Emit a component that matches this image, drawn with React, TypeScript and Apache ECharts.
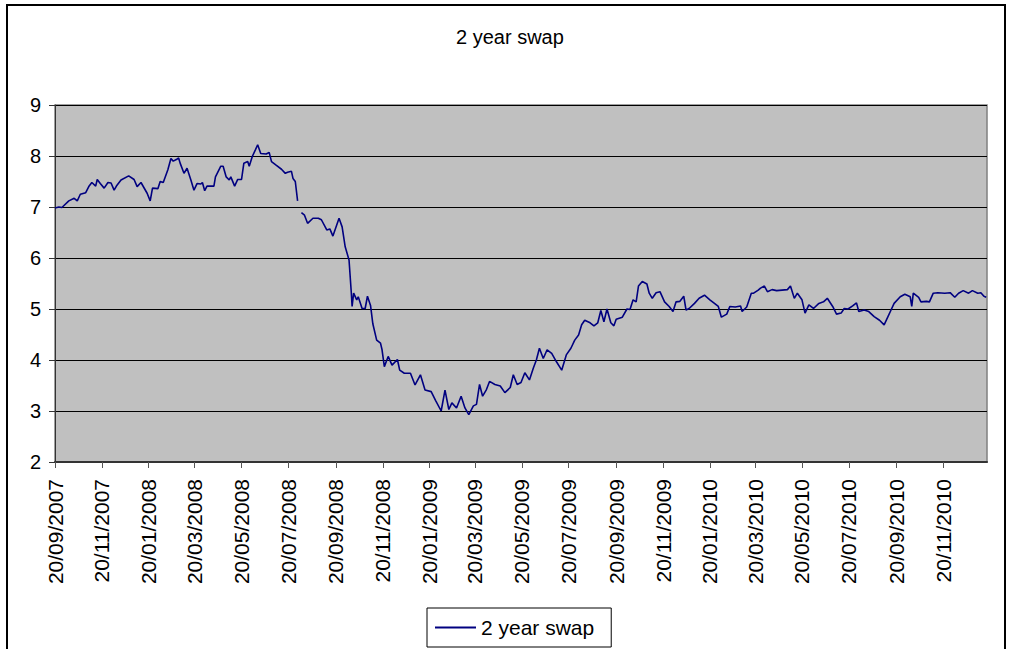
import React, { useEffect, useRef } from "react";
import * as echarts from "echarts";

const chartTitle = "2 year swap";
const seriesName = "2 year swap";

const dates: string[] = [
  "2007-09-20","2007-09-25","2007-09-29","2007-10-08","2007-10-15","2007-10-19","2007-10-23","2007-10-30",
  "2007-11-03","2007-11-07","2007-11-12","2007-11-14","2007-11-18","2007-11-23","2007-11-28","2007-12-02",
  "2007-12-06","2007-12-09","2007-12-15","2007-12-25","2008-01-01","2008-01-05","2008-01-10","2008-01-18",
  "2008-01-22","2008-01-25","2008-02-01","2008-02-04","2008-02-08","2008-02-14","2008-02-18","2008-02-21",
  "2008-02-25","2008-02-28","2008-03-01","2008-03-06","2008-03-10","2008-03-15","2008-03-19","2008-03-23",
  "2008-03-28","2008-03-30","2008-04-02","2008-04-05","2008-04-14","2008-04-16","2008-04-23","2008-04-26",
  "2008-04-30","2008-05-04","2008-05-06","2008-05-11","2008-05-15","2008-05-20","2008-05-23","2008-05-28",
  "2008-05-30","2008-06-03","2008-06-07","2008-06-10","2008-06-14","2008-06-21","2008-06-25","2008-06-28",
  "2008-07-04","2008-07-11","2008-07-16","2008-07-19","2008-07-24","2008-07-26","2008-07-29","2008-08-01",
  "2008-08-03","2008-08-06","2008-08-10","2008-08-14","2008-08-21","2008-08-28","2008-09-01","2008-09-08",
  "2008-09-12","2008-09-16","2008-09-24","2008-09-28","2008-10-02","2008-10-07","2008-10-10","2008-10-11",
  "2008-10-13","2008-10-17","2008-10-19","2008-10-24","2008-10-28","2008-10-31","2008-11-04","2008-11-07",
  "2008-11-12","2008-11-17","2008-11-19","2008-11-22","2008-11-27","2008-12-02","2008-12-09","2008-12-12",
  "2008-12-18","2008-12-26","2009-01-01","2009-01-08","2009-01-14","2009-01-22","2009-01-28","2009-02-04",
  "2009-02-09","2009-02-14","2009-02-18","2009-02-24","2009-03-02","2009-03-07","2009-03-12","2009-03-18",
  "2009-03-22","2009-03-26","2009-03-30","2009-04-04","2009-04-08","2009-04-15","2009-04-22","2009-04-28",
  "2009-05-05","2009-05-09","2009-05-14","2009-05-19","2009-05-24","2009-05-30","2009-06-04","2009-06-08",
  "2009-06-12","2009-06-17","2009-06-22","2009-06-28","2009-07-04","2009-07-11","2009-07-17","2009-07-23",
  "2009-07-28","2009-08-02","2009-08-06","2009-08-10","2009-08-17","2009-08-22","2009-08-27","2009-08-31",
  "2009-09-04","2009-09-08","2009-09-13","2009-09-17","2009-09-20","2009-09-28","2009-10-04","2009-10-08",
  "2009-10-12","2009-10-16","2009-10-19","2009-10-24","2009-10-30","2009-11-02","2009-11-06","2009-11-11",
  "2009-11-16","2009-11-22","2009-11-28","2009-12-03","2009-12-07","2009-12-12","2009-12-17","2009-12-20",
  "2009-12-24","2009-12-31","2010-01-06","2010-01-13","2010-01-20","2010-01-26","2010-01-31","2010-02-04",
  "2010-02-11","2010-02-15","2010-02-22","2010-03-01","2010-03-03","2010-03-09","2010-03-15","2010-03-18",
  "2010-03-24","2010-03-27","2010-04-01","2010-04-05","2010-04-11","2010-04-17","2010-04-24","2010-05-01",
  "2010-05-05","2010-05-10","2010-05-14","2010-05-20","2010-05-24","2010-05-29","2010-06-04","2010-06-11",
  "2010-06-17","2010-06-22","2010-06-29","2010-07-04","2010-07-10","2010-07-14","2010-07-19","2010-07-25",
  "2010-07-30","2010-08-02","2010-08-09","2010-08-15","2010-08-22","2010-08-29","2010-09-04","2010-09-09",
  "2010-09-13","2010-09-17","2010-09-25","2010-10-01","2010-10-08","2010-10-10","2010-10-12","2010-10-19",
  "2010-10-22","2010-10-29","2010-11-02","2010-11-07","2010-11-13","2010-11-22","2010-11-29","2010-12-05",
  "2010-12-10","2010-12-16","2010-12-23","2010-12-28","2011-01-04","2011-01-08","2011-01-12","2011-01-15",
];

const swapRates: (number | null)[] = [
  6.98,7.0,6.99,7.12,7.17,7.12,7.25,7.28,
  7.4,7.48,7.41,7.54,7.46,7.37,7.48,7.47,
  7.33,7.41,7.53,7.61,7.54,7.4,7.48,7.27,
  7.12,7.37,7.36,7.5,7.48,7.73,7.95,7.9,
  7.93,7.96,7.86,7.66,7.76,7.53,7.33,7.46,
  7.45,7.48,7.32,7.41,7.41,7.59,7.8,7.8,
  7.59,7.53,7.59,7.41,7.54,7.54,7.86,7.89,
  7.8,7.99,8.12,8.22,8.05,8.04,8.07,7.89,
  7.82,7.74,7.66,7.68,7.7,7.56,7.5,7.12,
  null,6.89,6.84,6.68,6.78,6.78,6.75,6.55,
  6.57,6.43,6.78,6.61,6.22,5.96,5.31,5.05,
  5.31,5.18,5.24,5.01,5.01,5.25,5.07,4.71,
  4.39,4.33,4.2,3.87,4.07,3.9,4.01,3.8,
  3.74,3.74,3.51,3.71,3.41,3.38,3.2,3.0,
  3.41,3.03,3.16,3.06,3.29,3.06,2.93,3.1,
  3.13,3.52,3.29,3.42,3.58,3.52,3.49,3.36,
  3.46,3.71,3.52,3.56,3.75,3.61,3.84,4.0,
  4.23,4.03,4.2,4.13,3.97,3.8,4.1,4.23,
  4.39,4.49,4.69,4.78,4.73,4.67,4.73,4.97,
  4.75,5.0,4.73,4.67,4.8,4.84,5.0,4.99,
  5.18,5.14,5.45,5.54,5.49,5.31,5.21,5.32,
  5.34,5.14,5.05,4.95,5.14,5.15,5.25,4.98,
  5.01,5.11,5.21,5.27,5.18,5.11,5.05,4.84,
  4.9,5.05,5.04,5.06,4.95,5.04,5.31,5.31,
  5.37,5.41,5.45,5.34,5.38,5.36,5.37,5.38,
  5.45,5.21,5.31,5.18,4.92,5.08,5.01,5.11,
  5.14,5.21,5.05,4.9,4.92,5.01,5.0,5.06,
  5.12,4.95,4.98,4.95,4.85,4.78,4.69,4.85,
  4.98,5.11,5.24,5.29,5.24,5.05,5.31,5.23,
  5.14,5.15,5.14,5.31,5.32,5.31,5.32,5.23,
  5.31,5.36,5.31,5.36,5.31,5.32,5.25,5.23,
];

const tickLabels: string[] = [
  "20/09/2007","20/11/2007","20/01/2008","20/03/2008","20/05/2008","20/07/2008","20/09/2008",
  "20/11/2008","20/01/2009","20/03/2009","20/05/2009","20/07/2009","20/09/2009","20/11/2009",
  "20/01/2010","20/03/2010","20/05/2010","20/07/2010","20/09/2010","20/11/2010",
];

const axisStart = "2007-09-20";
const axisEnd = "2011-01-16";
const yMin = 2;
const yMax = 9;

const DAY = 86400000;
const isoUTC = (s: string) => {
  const [y, m, d] = s.split("-").map(Number);
  return Date.UTC(y, m - 1, d);
};
const dmyUTC = (s: string) => {
  const [d, m, y] = s.split("/").map(Number);
  return Date.UTC(y, m - 1, d);
};
const START = isoUTC(axisStart);
const dayIdx = (t: number) => Math.round((t - START) / DAY);
const pad = (n: number) => (n < 10 ? "0" + n : "" + n);
const fmtDay = (v: number) => {
  const dt = new Date(START + Math.round(v) * DAY);
  return pad(dt.getUTCDate()) + "/" + pad(dt.getUTCMonth() + 1) + "/" + dt.getUTCFullYear();
};

const FONT = "'Liberation Sans', Arial, sans-serif";

export default function App() {
  const ref = useRef<HTMLDivElement>(null);
  useEffect(() => {
    document.body.style.margin = "0";
    const chart = echarts.init(ref.current!, null, { renderer: "svg" });
    const tickDays = tickLabels.map((s) => dayIdx(dmyUTC(s)));
    const data = dates.map((d, i) => [dayIdx(isoUTC(d)), swapRates[i] === null ? "-" : swapRates[i]]);
    chart.setOption({
      animation: false,
      backgroundColor: "#ffffff",
      title: {
        text: chartTitle,
        left: 456,
        top: 27,
        padding: 0,
        textStyle: { fontSize: 20, fontWeight: "normal", color: "#000", fontFamily: FONT },
      },
      legend: {
        data: [seriesName],
        left: 427,
        top: 608,
        padding: [9, 17, 9, 8],
        borderColor: "#000",
        borderWidth: 1,
        backgroundColor: "#fff",
        icon: "rect",
        itemWidth: 41,
        itemHeight: 2,
        textStyle: { fontSize: 21, color: "#000", fontFamily: FONT },
      },
      grid: {
        left: 55,
        top: 105,
        right: 23,
        bottom: 187,
        show: true,
        backgroundColor: "#C0C0C0",
        borderColor: "#808080",
        borderWidth: 1.5,
      },
      xAxis: {
        type: "value",
        min: 0,
        max: dayIdx(isoUTC(axisEnd)),
        axisLine: { show: true, onZero: false, lineStyle: { color: "#333", width: 2 } },
        axisTick: { show: true, length: 6, lineStyle: { color: "#555" }, customValues: tickDays },
        axisLabel: {
          customValues: tickDays,
          rotate: 90,
          margin: 17,
          fontSize: 21,
          color: "#000",
          fontFamily: FONT,
          formatter: (v: number) => fmtDay(v),
        },
        splitLine: { show: false },
      },
      yAxis: {
        type: "value",
        min: yMin,
        max: yMax,
        interval: 1,
        axisLine: { show: true, lineStyle: { color: "#333", width: 1 } },
        axisTick: { show: true, length: 6, lineStyle: { color: "#333" } },
        axisLabel: { fontSize: 20, color: "#000", margin: 14, fontFamily: FONT },
        splitLine: { show: true, lineStyle: { color: "#000", width: 1 } },
      },
      graphic: [
        {
          type: "rect",
          shape: { x: 7, y: 5, width: 998, height: 700 },
          style: { fill: "none", stroke: "#000", lineWidth: 2 },
          z: 100,
        },
      ],
      series: [
        {
          name: seriesName,
          type: "line",
          data,
          showSymbol: false,
          connectNulls: false,
          lineStyle: { color: "#000080", width: 1.6 },
          itemStyle: { color: "#000080" },
        },
      ],
    });
    return () => chart.dispose();
  }, []);
  return <div ref={ref} style={{ width: 1010, height: 649 }} />;
}
